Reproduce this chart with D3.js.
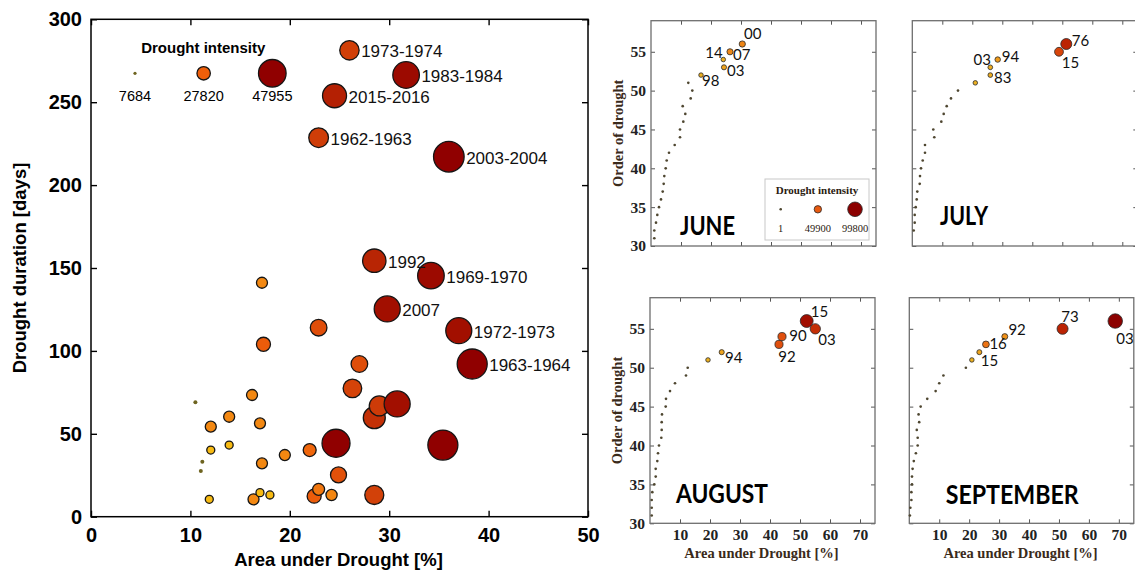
<!DOCTYPE html>
<html lang="en">
<head>
<meta charset="UTF-8" />
<title>Drought duration, area and intensity</title>
<script src="https://d3js.org/d3.v7.min.js"></script>
<style>
  body { margin: 0; background: #fff; }
  svg { display: block; background: #fff; }
  .axis-big text { font: bold 20px "Liberation Sans", Arial, sans-serif; fill: #000; }
  .axis-big line { stroke: #000; stroke-width: 1.4; }
  .axis-small text { font: bold 15.5px "Liberation Serif", serif; fill: #222; }
  .axis-small line { stroke: #555; stroke-width: 1; }
  .domain { display: none; }
  .title-big { font: bold 18.5px "Liberation Sans", Arial, sans-serif; fill: #000; }
  .title-small { font: bold 14.5px "Liberation Serif", serif; fill: #3a2a1a; }
  .event-label { font: 17px "Liberation Sans", Arial, sans-serif; fill: #111; }
  .year-label { font: 15px Lato, "Open Sans", sans-serif; fill: #111; }
  .month-name { font: bold 26px Lato, "Open Sans", sans-serif; fill: #000; }
</style>
</head>
<body>
<svg id="chart" width="1135" height="570"></svg>
<script>
// ---------------- data: left panel (whole drought events) ----------------
const xTicksLeft = [0, 10, 20, 30, 40, 50];
const yTicksLeft = [0, 50, 100, 150, 200, 250, 300];

const eventArea = [26.0, 31.7, 24.5, 22.9, 36.0, 28.5, 34.2, 29.8, 37.0, 38.35,
  22.9, 27.0, 26.3, 28.5, 29.0, 30.8, 24.65, 35.4, 22.0, 19.5, 24.9, 22.45, 22.9, 24.2, 28.5,
  17.2, 17.35, 16.2, 10.5, 13.9, 12.05, 17.0, 12.05, 13.9, 11.2, 11.05, 17.2, 11.9, 16.35, 17.0, 18.0];
const eventDuration = [281.3, 266.4, 253.9, 228.6, 217.1, 154.4, 145.4, 125.3, 112.2, 92.1,
  114, 92.1, 77.4, 59.7, 66.8, 68, 44.3, 43.2, 40.2, 37.2, 25.2, 12.4, 16.5, 13.1, 13.1,
  141.1, 104, 73.4, 69, 60.3, 54.3, 56.3, 40.2, 43.2, 33.2, 27.6, 32.2, 10.5, 10.5, 14.5, 13.1];
const eventIntensity = [36300, 46500, 42850, 36800, 52200, 42000, 46500, 45700, 45700, 51400,
  32400, 32400, 35200, 40000, 37200, 45700, 48500, 51400, 27000, 23200, 31500, 28700, 25100, 23500, 35800,
  23200, 28700, 23200, 7700, 23200, 23200, 23200, 17400, 17400, 7700, 7700, 23200, 17400, 23200, 17400, 17400];
const eventLabel = ["1973-1974", "1983-1984", "2015-2016", "1962-1963", "2003-2004",
  "1992", "1969-1970", "2007", "1972-1973", "1963-1964"];
const legendIntensity = [7684, 27820, 47955];

// ---------------- data: monthly panels ----------------
const monthNames = ["JUNE", "JULY", "AUGUST", "SEPTEMBER"];
const monthXTicks = [10, 20, 30, 40, 50, 60, 70];
const monthYTicks = [30, 35, 40, 45, 50, 55];
const monthLegend = [1, 49900, 99800];

const juneOrder = [31, 32, 33, 34, 35, 36, 37, 38, 39, 40, 41, 42, 43, 44, 45, 46, 47, 48, 49, 50, 51, 52, 53, 54, 55, 56];
const juneArea = [1.1, 1.1, 1.67, 2.1, 2.67, 3.33, 3.9, 4.23, 4.43, 4.9, 5.23, 6.0, 7.9, 9.67, 9.67, 10.77, 11.43, 10.57, 13.23, 13.77, 12.43, 16.67, 24.33, 24.1, 26.33, 30.43];
const juneIntensity = [500, 500, 500, 500, 500, 500, 500, 500, 500, 500, 500, 500, 500, 500, 500, 500, 500, 500, 500, 500, 500, 20000, 26000, 20000, 37000, 38000];
const juneYears = [[52, "98"], [53, "03"], [54, "14"], [55, "07"], [56, "00"]];

const julyOrder = [32, 33, 34, 35, 36, 37, 38, 39, 40, 41, 42, 43, 44, 45, 46, 47, 48, 49, 50, 51, 52, 53, 54, 55, 56];
const julyArea = [0.47, 0.8, 0.8, 1.13, 1.47, 1.67, 2.47, 2.57, 2.9, 3.47, 4.23, 4.23, 7.33, 7.0, 9.67, 10.47, 11.47, 12.9, 15.23, 21.0, 26.0, 26.0, 28.47, 48.9, 51.33];
const julyIntensity = [500, 500, 500, 500, 500, 500, 500, 500, 500, 500, 500, 500, 500, 500, 500, 500, 500, 500, 500, 20000, 22000, 22000, 30000, 60000, 75000];
const julyYears = [[52, "83"], [53, "03"], [54, "94"], [55, "15"], [56, "76"]];

const augustOrder = [31, 32, 33, 34, 35, 36, 37, 38, 39, 40, 41, 42, 43, 44, 45, 46, 47, 48, 49, 50, 51, 52, 53, 54, 55, 56];
const augustArea = [0.57, 0.57, 0.57, 0.77, 1.43, 1.9, 1.9, 2.43, 2.67, 3.0, 3.77, 3.9, 3.9, 4.0, 5.23, 5.33, 6.67, 8.33, 12.0, 12.57, 19.33, 23.9, 43.0, 44.0, 55.1, 52.23];
const augustIntensity = [500, 500, 500, 500, 500, 500, 500, 500, 500, 500, 500, 500, 500, 500, 500, 500, 500, 500, 500, 500, 20000, 26000, 55000, 55000, 70000, 88000];
const augustYears = [[52, "94"], [53, "92"], [54, "90"], [55, "03"], [56, "15"]];

const septemberOrder = [31, 32, 33, 34, 35, 36, 37, 38, 39, 40, 41, 42, 43, 44, 45, 46, 47, 48, 49, 50, 51, 52, 53, 54, 55, 56];
const septemberArea = [0.2, 0.35, 0.7, 0.7, 0.9, 0.9, 1.1, 1.5, 2.2, 2.8, 2.8, 2.5, 3.3, 3.1, 3.8, 6.0, 8.8, 10.0, 11.4, 18.9, 20.9, 23.4, 25.6, 31.9, 51.2, 68.8];
const septemberIntensity = [500, 500, 500, 500, 500, 500, 500, 500, 500, 500, 500, 500, 500, 500, 500, 500, 500, 500, 500, 500, 20000, 25000, 43000, 35000, 75000, 99000];
const septemberYears = [[52, "15"], [53, "16"], [54, "92"], [55, "73"], [56, "03"]];

// ---------------- layout ----------------
const svg = d3.select("#chart");

// where each year label sits relative to its point: [dx, dy, anchor]
const labelNudge = [
  { 52: [1, 11.4, "start"], 53: [3, 8.3, "start"], 54: [-0.6, -1.7, "end"], 55: [3, 8.5, "start"], 56: [1.7, -4.7, "start"] },
  { 52: [3.7, 8, "start"], 53: [0.7, -2.7, "end"], 54: [4, 2.4, "start"], 55: [2.7, 16.7, "start"], 56: [5.4, 1.7, "start"] },
  { 52: [3.3, 10.6, "start"], 53: [-0.7, 17.7, "start"], 54: [7.3, 4.7, "start"], 55: [3, 15.7, "start"], 56: [4, -4, "start"] },
  { 52: [1.5, 13.5, "start"], 53: [3.5, 5, "start"], 54: [3.6, -2, "start"], 55: [-1.3, -6.6, "start"], 56: [1, 22.6, "start"] }
];
const panelBox = [
  { left: 651, top: 20.7, w: 225, h: 225.3, yLabels: true, xLabels: false, name: [29, 214.3, 55] },
  { left: 912.3, top: 20.7, w: 225, h: 225.3, yLabels: false, xLabels: false, name: [27.7, 204.3, 48] },
  { left: 650, top: 297.7, w: 225, h: 225.6, yLabels: true, xLabels: true, name: [26, 205, 92] },
  { left: 909.3, top: 297.7, w: 224.5, h: 225.6, yLabels: false, xLabels: true, name: [36.4, 206.6, 133] }
];

// ---------------- left panel ----------------
const L = { left: 91, right: 588, top: 19.3, bottom: 516.7 };
const x = d3.scaleLinear().domain([0, 50]).range([L.left, L.right]);
const y = d3.scaleLinear().domain([0, 300]).range([L.bottom, L.top]);
const rBig = d3.scaleLinear().domain([7684, 27820, 47955]).range([1.5, 6.7, 13.8]);
const cBig = d3.scaleLinear()
  .domain([7684, 9000, 17000, 23000, 27820, 34000, 40000, 45000, 47955])
  .range(["#6e6420", "#6e6420", "#f7bd12", "#f38a12", "#ef5f0a", "#d9480a", "#c33006", "#a81400", "#900000"])
  .clamp(true);

const gL = svg.append("g");

gL.append("g").attr("class", "axis-big")
  .attr("transform", `translate(0,${L.bottom})`)
  .call(d3.axisBottom(x).tickValues(xTicksLeft).tickSizeInner(-6).tickSizeOuter(0).tickPadding(11));
gL.append("g").attr("class", "axis-big")
  .attr("transform", `translate(${L.left},0)`)
  .call(d3.axisLeft(y).tickValues(yTicksLeft).tickSizeInner(-6).tickSizeOuter(0).tickPadding(9));
gL.append("g").attr("class", "axis-big")
  .attr("transform", `translate(0,${L.top})`)
  .call(d3.axisTop(x).tickValues(xTicksLeft).tickSizeInner(-6).tickSizeOuter(0).tickFormat(""));
gL.append("g").attr("class", "axis-big")
  .attr("transform", `translate(${L.right},0)`)
  .call(d3.axisRight(y).tickValues(yTicksLeft).tickSizeInner(-6).tickSizeOuter(0).tickFormat(""));

gL.append("rect")
  .attr("x", L.left).attr("y", L.top)
  .attr("width", L.right - L.left).attr("height", L.bottom - L.top)
  .attr("fill", "none").attr("stroke", "#000").attr("stroke-width", 1.5);

const events = eventArea.map((a, i) => ({
  area: a, days: eventDuration[i], intensity: eventIntensity[i], label: eventLabel[i]
}));

gL.selectAll("circle.event").data(events).join("circle")
  .attr("class", "event")
  .attr("cx", d => x(d.area))
  .attr("cy", d => y(d.days))
  .attr("r", d => Math.max(2, rBig(d.intensity)))
  .attr("fill", d => cBig(d.intensity))
  .attr("stroke", d => rBig(d.intensity) < 2.5 ? "none" : "#151515")
  .attr("stroke-width", 1.3);

gL.selectAll("text.event-label").data(events.filter(d => d.label)).join("text")
  .attr("class", "event-label")
  .attr("x", d => x(d.area) + rBig(d.intensity) + 2)
  .attr("y", d => y(d.days) + 7)
  .text(d => d.label);

// legend (Drought intensity)
const legL = gL.append("g");
legL.append("text").attr("x", 203.3).attr("y", 53.3).attr("text-anchor", "middle")
  .style("font", "bold 15px 'Liberation Sans', Arial, sans-serif").text("Drought intensity");
const legX = d3.scalePoint().domain(legendIntensity).range([135, 272.3]);
legL.selectAll("circle").data(legendIntensity).join("circle")
  .attr("cx", d => legX(d)).attr("cy", 73.3)
  .attr("r", d => Math.max(1.6, rBig(d)))
  .attr("fill", d => cBig(d))
  .attr("stroke", d => rBig(d) < 2.5 ? "none" : "#151515").attr("stroke-width", 1.3);
legL.selectAll("text.val").data(legendIntensity).join("text")
  .attr("class", "val")
  .attr("x", d => legX(d)).attr("y", 101).attr("text-anchor", "middle")
  .style("font", "14.5px 'Liberation Sans', Arial, sans-serif")
  .text(d => d);

gL.append("text").attr("class", "title-big")
  .attr("x", (L.left + L.right) / 2 - 1).attr("y", 566).attr("text-anchor", "middle")
  .text("Area under Drought [%]");
gL.append("text").attr("class", "title-big")
  .attr("transform", `translate(26,${(L.top + L.bottom) / 2})rotate(-90)`)
  .attr("text-anchor", "middle")
  .text("Drought duration [days]");

// ---------------- monthly panels ----------------
const rSmall = d3.scaleLinear().domain([1, 49900, 99800]).range([1.3, 3.7, 7.3]);
const cSmall = d3.scaleLinear()
  .domain([0, 5000, 20000, 35000, 50000, 65000, 80000, 99800])
  .range(["#4e4630", "#4e4630", "#ecb020", "#f09018", "#e85a10", "#d03a08", "#b01800", "#8b0000"])
  .clamp(true);

const monthData = [
  { order: juneOrder, area: juneArea, intensity: juneIntensity, years: juneYears },
  { order: julyOrder, area: julyArea, intensity: julyIntensity, years: julyYears },
  { order: augustOrder, area: augustArea, intensity: augustIntensity, years: augustYears },
  { order: septemberOrder, area: septemberArea, intensity: septemberIntensity, years: septemberYears }
];

monthData.forEach((m, k) => {
  const b = panelBox[k];
  const xm = d3.scaleLinear().domain([0, 75]).range([b.left, b.left + b.w]);
  const ym = d3.scaleLinear().domain([30, 59]).range([b.top + b.h, b.top]);
  const g = svg.append("g");

  g.append("g").attr("class", "axis-small")
    .attr("transform", `translate(0,${b.top + b.h})`)
    .call(d3.axisBottom(xm).tickValues(monthXTicks).tickSizeInner(-4).tickSizeOuter(0).tickPadding(6)
      .tickFormat(b.xLabels ? d3.format("d") : ""));
  g.append("g").attr("class", "axis-small")
    .attr("transform", `translate(${b.left},0)`)
    .call(d3.axisLeft(ym).tickValues(monthYTicks).tickSizeInner(-4).tickSizeOuter(0).tickPadding(5)
      .tickFormat(b.yLabels ? d3.format("d") : ""));
  g.append("g").attr("class", "axis-small")
    .attr("transform", `translate(0,${b.top})`)
    .call(d3.axisTop(xm).tickValues(monthXTicks).tickSizeInner(-4).tickSizeOuter(0).tickFormat(""));
  g.append("g").attr("class", "axis-small")
    .attr("transform", `translate(${b.left + b.w},0)`)
    .call(d3.axisRight(ym).tickValues(monthYTicks).tickSizeInner(-4).tickSizeOuter(0).tickFormat(""));

  g.append("rect")
    .attr("x", b.left).attr("y", b.top).attr("width", b.w).attr("height", b.h)
    .attr("fill", "none").attr("stroke", "#6e6e6e").attr("stroke-width", 1.3);

  if (b.yLabels) {
    g.append("text").attr("class", "title-small")
      .attr("transform", `translate(${b.left - 28},${b.top + b.h / 2})rotate(-90)`)
      .attr("text-anchor", "middle").text("Order of drought");
  }
  if (b.xLabels) {
    g.append("text").attr("class", "title-small")
      .attr("x", b.left + b.w / 2 - 1).attr("y", 558.3).attr("text-anchor", "middle")
      .text("Area under Drought [%]");
  }

  g.append("text").attr("class", "month-name")
    .attr("x", b.left + b.name[0]).attr("y", b.top + b.name[1])
    .attr("textLength", b.name[2]).attr("lengthAdjust", "spacingAndGlyphs")
    .text(monthNames[k]);

  const pts = m.order.map((o, i) => ({ order: o, area: m.area[i], intensity: m.intensity[i] }));
  g.selectAll("circle").data(pts).join("circle")
    .attr("cx", d => xm(d.area))
    .attr("cy", d => ym(d.order))
    .attr("r", d => rSmall(d.intensity))
    .attr("fill", d => cSmall(d.intensity))
    .attr("stroke", d => rSmall(d.intensity) < 1.8 ? "none" : "#2a2a2a")
    .attr("stroke-width", 0.8);

  const byOrder = new Map(pts.map(p => [p.order, p]));
  g.selectAll("text.year-label").data(m.years).join("text")
    .attr("class", "year-label")
    .attr("x", d => xm(byOrder.get(d[0]).area) + labelNudge[k][d[0]][0])
    .attr("y", d => ym(d[0]) + labelNudge[k][d[0]][1])
    .attr("text-anchor", d => labelNudge[k][d[0]][2])
    .text(d => d[1]);

  if (k === 0) {
    // legend box for the monthly panels
    const lg = g.append("g");
    lg.append("rect").attr("x", b.left + 114).attr("y", b.top + 158.3)
      .attr("width", 104).attr("height", 61)
      .attr("fill", "#fff").attr("stroke", "#c8c8c8").attr("stroke-width", 1);
    lg.append("text").attr("x", b.left + 166).attr("y", b.top + 173.6)
      .attr("text-anchor", "middle")
      .style("font", "bold 11px 'Liberation Serif', serif").style("fill", "#2a2010")
      .text("Drought intensity");
    const lx = d3.scalePoint().domain(monthLegend).range([b.left + 129.7, b.left + 204]);
    lg.selectAll("circle").data(monthLegend).join("circle")
      .attr("cx", d => lx(d)).attr("cy", b.top + 188.6)
      .attr("r", d => rSmall(d))
      .attr("fill", d => cSmall(d))
      .attr("stroke", d => rSmall(d) < 1.8 ? "none" : "#2a2a2a").attr("stroke-width", 0.8);
    lg.selectAll("text.v").data(monthLegend).join("text")
      .attr("class", "v")
      .attr("x", d => lx(d)).attr("y", b.top + 211.5).attr("text-anchor", "middle")
      .style("font", "10.5px 'Liberation Serif', serif").style("fill", "#2a2010")
      .text(d => d);
  }
});
</script>
</body>
</html>
